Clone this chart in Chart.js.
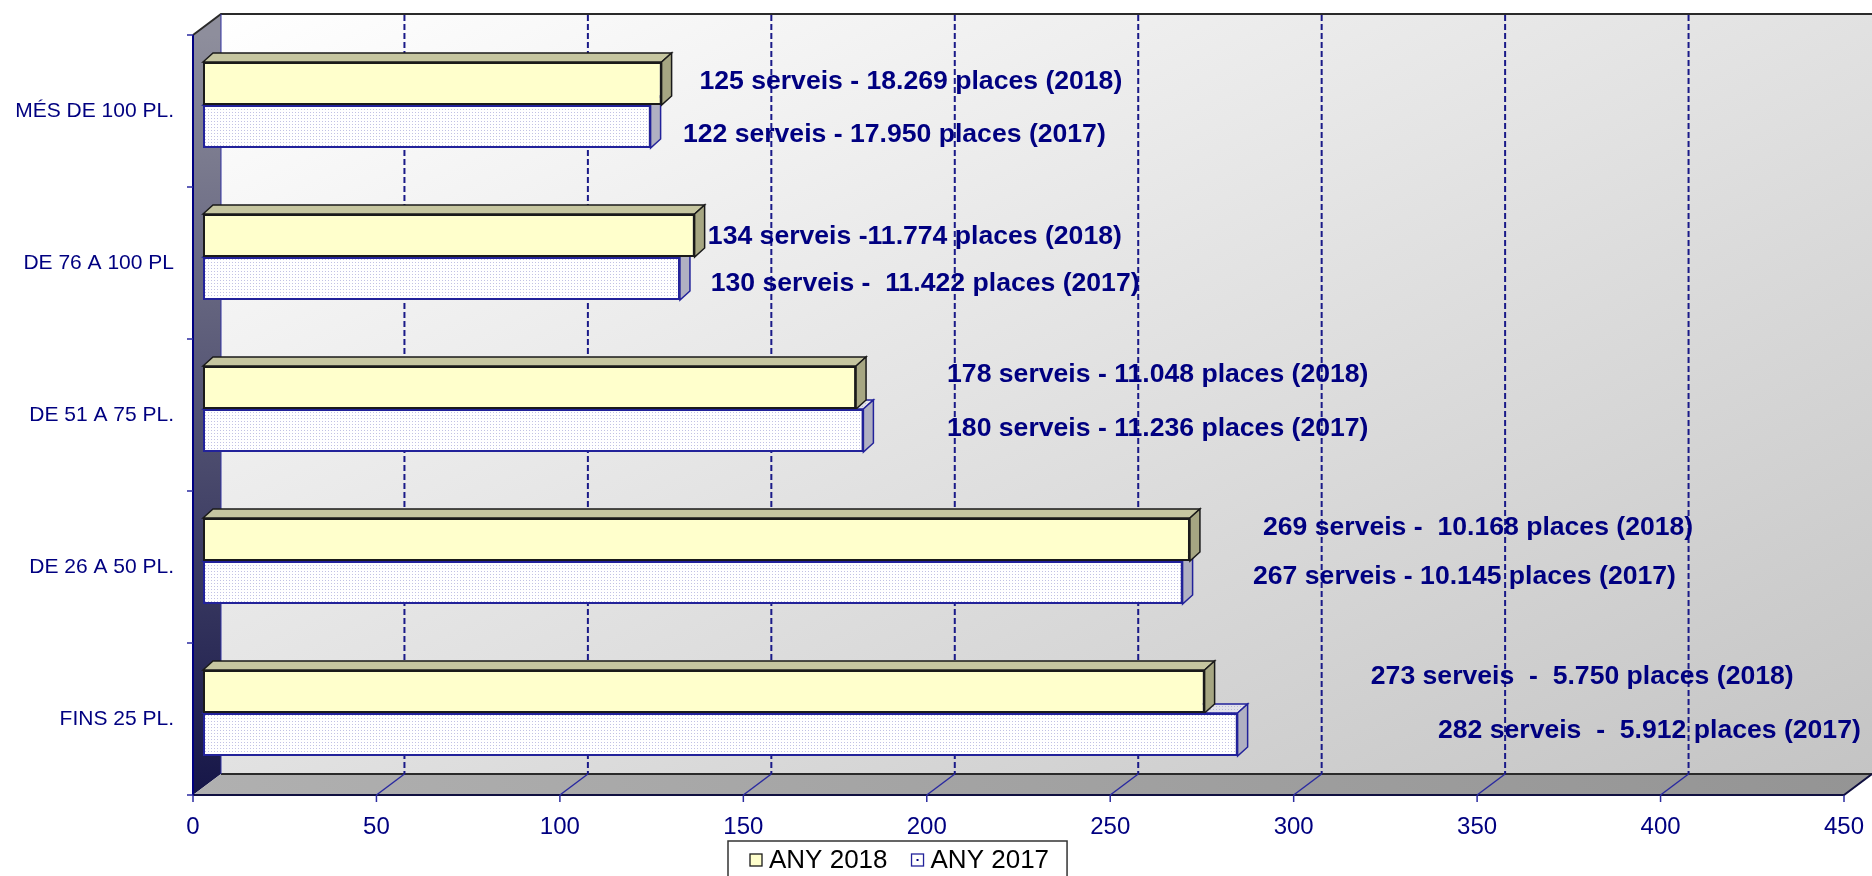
<!DOCTYPE html>
<html>
<head>
<meta charset="utf-8">
<script src="https://cdn.jsdelivr.net/npm/chart.js@4.4.1/dist/chart.umd.min.js"></script>
<style>
  html, body { margin: 0; padding: 0; background: #fff; overflow: hidden; }
  canvas { display: block; }
</style>
</head>
<body>
<canvas id="chart" width="1872" height="876"></canvas>
<script>
// data
const categories = ["MÉS DE 100 PL.", "DE 76 A 100 PL", "DE 51 A 75 PL.", "DE 26 A 50 PL.", "FINS 25 PL."];
const serveis2018 = [125, 134, 178, 269, 273];
const serveis2017 = [122, 130, 180, 267, 282];
const notes2018 = [
  "125 serveis - 18.269 places (2018)",
  "134 serveis -11.774 places (2018)",
  "178 serveis - 11.048 places (2018)",
  "269 serveis -  10.168 places (2018)",
  "273 serveis  -  5.750 places (2018)"
];
const notes2017 = [
  "122 serveis - 17.950 places (2017)",
  "130 serveis -  11.422 places (2017)",
  "180 serveis - 11.236 places (2017)",
  "267 serveis - 10.145 places (2017)",
  "282 serveis  -  5.912 places (2017)"
];
const seriesNames = ["ANY 2018", "ANY 2017"];
const xMax = 450;
const xStep = 50;

// where the notes start, in axis units, and small vertical nudges (px)
const noteAt2018 = [135.3, 137.6, 202.8, 288.9, 318.3];
const noteAt2017 = [130.8, 138.4, 202.8, 286.2, 336.6];
const noteDy2018 = [-2, 1, -13, -12, -15];
const noteDy2017 = [8, 5, -2, -6, -4];

const NAVY = "#000080";
const FRONT = { x: -10, y: 6 };   // front plane relative to bar plane
const DEPTH = { x: 28, y: -21 };  // back wall relative to front plane
const BAR_D = { x: 10, y: -9 };   // bar extrusion

const canvas = document.getElementById("chart");
const ctx = canvas.getContext("2d");

function dotPattern(bg, dot) {
  const c = document.createElement("canvas");
  c.width = 3; c.height = 3;
  const g = c.getContext("2d");
  g.fillStyle = bg; g.fillRect(0, 0, 3, 3);
  g.fillStyle = dot; g.fillRect(1, 1, 1, 1);
  return ctx.createPattern(c, "repeat");
}
const pat2017 = dotPattern("#ffffff", "#c2c2e4");
const pat2017Top = dotPattern("#e2e2ea", "#b8b8d8");

function poly(c, pts) {
  c.beginPath();
  c.moveTo(pts[0][0], pts[0][1]);
  for (let i = 1; i < pts.length; i++) c.lineTo(pts[i][0], pts[i][1]);
  c.closePath();
}

const frame3d = {
  id: "frame3d",
  beforeDraw(chart) {
    const { ctx: c, chartArea: ca, scales: { x } } = chart;
    const fl = ca.left + FRONT.x, ft = ca.top + FRONT.y, fb = ca.bottom + FRONT.y, fr = ca.right + FRONT.x;
    const bl = fl + DEPTH.x, bt = ft + DEPTH.y, bb = fb + DEPTH.y, br = fr + DEPTH.x;
    c.save();

    // back wall, shaded corner to corner
    const w = br - bl, h = bb - bt, k = 2 * w * h / (w * w + h * h);
    let g = c.createLinearGradient(bl, bt, bl + h * k, bt + w * k);
    g.addColorStop(0, "#ffffff");
    g.addColorStop(1, "#c4c4c4");
    c.fillStyle = g;
    c.fillRect(bl, bt, w, h);

    // left wall
    g = c.createLinearGradient(0, ft, 0, fb);
    g.addColorStop(0, "#8e8e9c");
    g.addColorStop(1, "#161648");
    c.fillStyle = g;
    poly(c, [[fl, ft], [bl, bt], [bl, bb], [fl, fb]]);
    c.fill();

    // floor
    g = c.createLinearGradient(fl, 0, br, 0);
    g.addColorStop(0, "#b0b0b0");
    g.addColorStop(1, "#949494");
    c.fillStyle = g;
    poly(c, [[fl, fb], [bl, bb], [br, bb], [fr, fb]]);
    c.fill();

    // outlines
    c.lineWidth = 2;
    c.strokeStyle = "#2a2a2a";
    c.beginPath();
    c.moveTo(fl, ft); c.lineTo(bl, bt); c.lineTo(br + 2, bt);
    c.moveTo(bl, bb); c.lineTo(br + 2, bb);
    c.stroke();
    c.strokeStyle = "#101040";
    c.beginPath();
    c.moveTo(fl, fb); c.lineTo(fr, fb); c.lineTo(br, bb);
    c.stroke();
    c.lineWidth = 1;
    c.strokeStyle = "#3030a0";
    c.beginPath();
    c.moveTo(bl, bt); c.lineTo(bl, bb);
    c.stroke();
    c.lineWidth = 2;
    c.strokeStyle = NAVY;
    c.beginPath();
    c.moveTo(fl, ft); c.lineTo(fl, fb);
    c.stroke();

    // value grid: dashed on the back wall, solid across the floor, ticks on the front
    x.ticks.forEach(t => {
      const px = x.getPixelForValue(t.value) + FRONT.x;
      if (t.value > 0 && t.value < xMax) {
        c.setLineDash([6, 3]);
        c.lineWidth = 2;
        c.strokeStyle = "#1a1a88";
        c.beginPath();
        c.moveTo(px + DEPTH.x, bt + 1);
        c.lineTo(px + DEPTH.x, bb);
        c.stroke();
        c.setLineDash([]);
        c.lineWidth = 1.5;
        c.strokeStyle = "#2a2aa0";
        c.beginPath();
        c.moveTo(px + DEPTH.x, bb);
        c.lineTo(px, fb);
        c.stroke();
      }
      c.setLineDash([]);
      c.lineWidth = 1.5;
      c.strokeStyle = "#2a2aa0";
      c.beginPath();
      c.moveTo(px, fb);
      c.lineTo(px, fb + 7);
      c.stroke();
    });

    // category ticks on the front edge
    const n = categories.length;
    c.strokeStyle = "#2a2aa0";
    c.lineWidth = 1.5;
    for (let i = 0; i <= n; i++) {
      const py = ft + (fb - ft) * i / n;
      c.beginPath();
      c.moveTo(fl - 6, py);
      c.lineTo(fl, py);
      c.stroke();
    }
    c.restore();
  },

  beforeDatasetsDraw(chart) {
    const c = chart.ctx;
    const looks = [
      { top: "#c6c6a0", side: "#a6a682", line: "#1a1a1a" },
      { top: pat2017Top, side: "#b0b0c2", line: "#22229a" }
    ];
    c.save();
    [1, 0].forEach(di => {
      const meta = chart.getDatasetMeta(di);
      const lk = looks[di];
      meta.data.forEach(bar => {
        const p = bar.getProps(["x", "y", "base", "height"], true);
        const top = p.y - p.height / 2, bot = p.y + p.height / 2;
        c.lineWidth = 1.5;
        c.strokeStyle = lk.line;
        c.fillStyle = lk.top;
        poly(c, [[p.base, top], [p.base + BAR_D.x, top + BAR_D.y], [p.x + BAR_D.x, top + BAR_D.y], [p.x, top]]);
        c.fill(); c.stroke();
        c.fillStyle = lk.side;
        poly(c, [[p.x, top], [p.x + BAR_D.x, top + BAR_D.y], [p.x + BAR_D.x, bot + BAR_D.y], [p.x, bot]]);
        c.fill(); c.stroke();
      });
    });
    c.restore();
  },

  afterDatasetsDraw(chart) {
    const { ctx: c, scales: { x } } = chart;
    c.save();
    c.font = "bold 26.6px 'Liberation Sans', Arial, sans-serif";
    c.fillStyle = NAVY;
    c.textAlign = "left";
    c.textBaseline = "middle";
    const groups = [[notes2018, noteAt2018, noteDy2018], [notes2017, noteAt2017, noteDy2017]];
    groups.forEach(([texts, at, dy], di) => {
      const meta = chart.getDatasetMeta(di);
      texts.forEach((t, i) => {
        c.fillText(t, x.getPixelForValue(at[i]), meta.data[i].y + dy[i]);
      });
    });
    c.restore();
  },

  afterDraw(chart) {
    // legend box under the axis
    const c = chart.ctx;
    const ds = chart.data.datasets;
    c.save();
    c.font = "26px 'Liberation Sans', Arial, sans-serif";
    c.textBaseline = "middle";
    const left = 728, top = 841, pad = 22, sw = 12, gap = 7, between = 24, cy = 860;
    let w = pad * 2;
    ds.forEach((d, i) => { w += sw + gap + c.measureText(d.label).width + (i ? between : 0); });
    w -= 4;
    c.fillStyle = "#ffffff";
    c.fillRect(left, top, w, 60);
    c.strokeStyle = "#333333";
    c.lineWidth = 1.5;
    c.strokeRect(left, top, w, 60);
    let cx = left + pad;
    ds.forEach((d, i) => {
      c.fillStyle = i === 0 ? d.backgroundColor : "#ffffff";
      c.fillRect(cx, cy - 6, sw, sw);
      c.strokeStyle = d.borderColor;
      c.lineWidth = 1.3;
      c.strokeRect(cx, cy - 6, sw, sw);
      if (i === 1) {
        c.fillStyle = NAVY;
        c.fillRect(cx + 5, cy - 1, 2, 2);
      }
      c.fillStyle = "#000000";
      c.fillText(d.label, cx + sw + gap, cy + 1);
      cx += sw + gap + c.measureText(d.label).width + between;
    });
    c.restore();
  }
};

new Chart(ctx, {
  type: "bar",
  data: {
    labels: categories,
    datasets: [
      {
        label: seriesNames[0],
        data: serveis2018,
        backgroundColor: "#ffffcc",
        borderColor: "#1a1a1a",
        borderWidth: 2,
        borderSkipped: false
      },
      {
        label: seriesNames[1],
        data: serveis2017,
        backgroundColor: pat2017,
        borderColor: "#22229a",
        borderWidth: 2,
        borderSkipped: false
      }
    ]
  },
  options: {
    indexAxis: "y",
    responsive: false,
    devicePixelRatio: 1,
    animation: false,
    categoryPercentage: 0.566,
    barPercentage: 1,
    layout: { padding: { top: 29, right: 18, bottom: 0, left: 0 } },
    plugins: {
      legend: { display: false },
      tooltip: { enabled: false }
    },
    scales: {
      x: {
        min: 0,
        max: xMax,
        grid: { display: false, drawTicks: false },
        border: { display: false },
        ticks: {
          stepSize: xStep,
          color: NAVY,
          padding: 24,
          labelOffset: FRONT.x,
          maxRotation: 0,
          font: { family: "'Liberation Sans', Arial, sans-serif", size: 24 }
        },
        afterFit(scale) {
          scale.height = 87;
          scale.paddingLeft = 0;
          scale.paddingRight = 0;
        }
      },
      y: {
        grid: { display: false, drawTicks: false },
        border: { display: false },
        ticks: {
          color: NAVY,
          padding: 29,
          labelOffset: FRONT.y,
          font: { family: "'Liberation Sans', Arial, sans-serif", size: 21 }
        },
        afterFit(scale) {
          scale.width = 203;
          scale.paddingTop = 0;
          scale.paddingBottom = 0;
        }
      }
    }
  },
  plugins: [frame3d]
});
</script>
</body>
</html>
